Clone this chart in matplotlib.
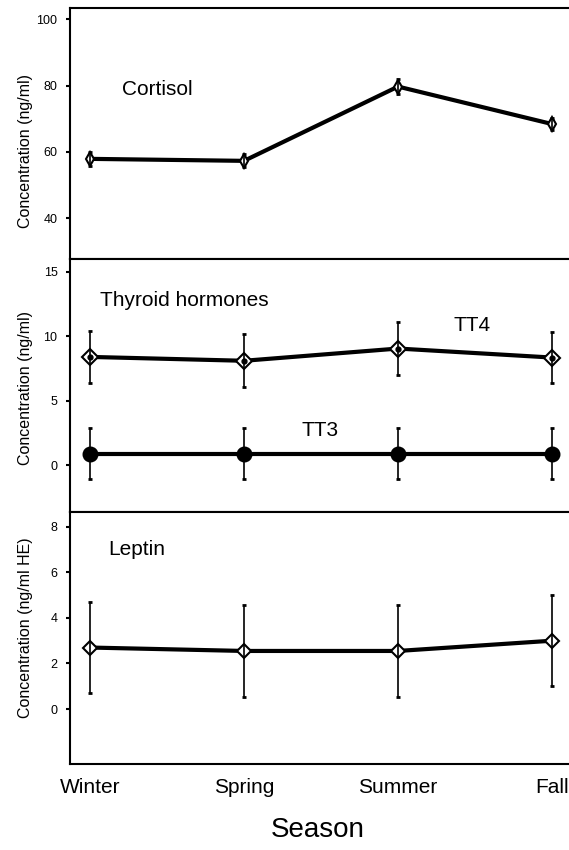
import matplotlib
matplotlib.use("Agg")
import matplotlib.pyplot as plt

plt.rcParams['font.family'] = ['Liberation Sans', 'DejaVu Sans']

seasons = ['Winter', 'Spring', 'Summer', 'Fall']

cortisol = [57.9, 57.3, 79.7, 68.4]
cortisol_err = [2.2, 2.0, 2.2, 1.9]

tt4 = [8.4, 8.1, 9.05, 8.35]
tt4_err = [2.05, 2.05, 2.05, 2.0]
tt3 = [0.9, 0.9, 0.9, 0.9]
tt3_err = [1.95, 1.95, 1.95, 1.95]

leptin = [2.7, 2.55, 2.55, 3.0]
leptin_err = [2.0, 2.0, 2.0, 2.0]

x = list(range(len(seasons)))

fig = plt.figure(figsize=(5.69, 8.5), dpi=100)
left, width = 0.123, 0.877
ax1 = fig.add_axes([left, 0.6953, width, 0.9902 - 0.6953])
ax2 = fig.add_axes([left, 0.3976, width, 0.6953 - 0.3976])
ax3 = fig.add_axes([left, 0.1012, width, 0.6953 - 0.3976 - 0.0012])


def draw_series(ax, vals, errs, marker, ms, face, inner_dot=False):
    ax.plot(x, vals, color='black', lw=3, zorder=2, solid_capstyle='butt')
    ax.plot(x, vals, ls='none', marker=marker, ms=ms, mfc=face, mec='black',
            mew=1.5, zorder=3)
    if inner_dot:
        ax.plot(x, vals, ls='none', marker='o', ms=3.5, color='black', zorder=4)
    ax.errorbar(x, vals, yerr=errs, fmt='none', ecolor='black', elinewidth=1.2,
                capsize=1.2, capthick=2, zorder=5)


def style_axis(ax, ylim, yticks, label, label_y):
    ax.set_xlim(-0.13, 3.11)
    ax.set_ylim(*ylim)
    ax.set_yticks(yticks)
    ax.tick_params(axis='y', direction='out', length=3, width=1.5,
                   labelsize=9, pad=6)
    for side in ['left', 'top', 'bottom']:
        ax.spines[side].set_linewidth(1.5)
    ax.spines['right'].set_visible(False)
    ax.set_ylabel(label, fontsize=11.5)
    ax.yaxis.set_label_coords(-0.075, label_y)


# cortisol
draw_series(ax1, cortisol, cortisol_err, 'd', 7.5, 'white')
style_axis(ax1, (27.7, 103.3), [40, 60, 80, 100], 'Concentration (ng/ml)', 0.43)
ax1.text(0.21, 78.8, 'Cortisol', fontsize=15, ha='left', va='center')
ax1.set_xticks([])

# thyroid hormones
draw_series(ax2, tt4, tt4_err, 'D', 8.5, 'white', inner_dot=True)
draw_series(ax2, tt3, tt3_err, 'o', 10, 'black')
style_axis(ax2, (-3.64, 16.0), [0, 5, 10, 15], 'Concentration (ng/ml)', 0.49)
ax2.text(0.065, 12.8, 'Thyroid hormones', fontsize=15, ha='left', va='center')
ax2.text(2.36, 10.8, 'TT4', fontsize=15, ha='left', va='center')
ax2.text(1.37, 2.7, 'TT3', fontsize=15, ha='left', va='center')
ax2.set_xticks([])

# leptin
draw_series(ax3, leptin, leptin_err, 'D', 7.6, 'white')
style_axis(ax3, (-2.41, 8.65), [0, 2, 4, 6, 8], 'Concentration (ng/ml HE)', 0.54)
ax3.text(0.117, 7.0, 'Leptin', fontsize=15, ha='left', va='center')
ax3.set_xticks(x)
ax3.set_xticklabels(seasons)
ax3.tick_params(axis='x', length=0, labelsize=15, pad=10)

fig.text(318 / 569, 1 - 830 / 850, 'Season', fontsize=20, ha='center', va='center')

fig.savefig('out.png', dpi=100)
